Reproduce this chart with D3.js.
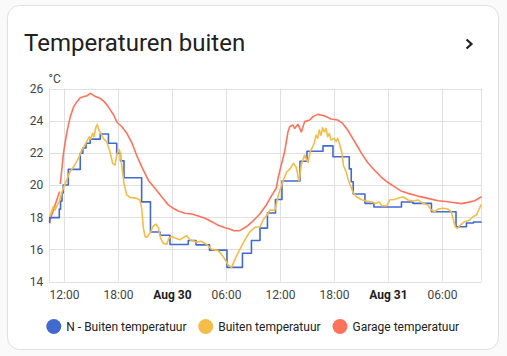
<!DOCTYPE html>
<html><head><meta charset="utf-8">
<script src="https://cdn.jsdelivr.net/npm/d3@7"></script>
<style>
html,body{margin:0;padding:0;background:#fafafa;}
svg{display:block;font-family:Roboto, "Noto Sans", sans-serif;}
</style></head><body>
<svg id="c" width="507" height="356"></svg>
<script>
// Time values: hours since Aug 29 00:00
const seriesNames = ["N - Buiten temperatuur", "Buiten temperatuur", "Garage temperatuur"];
const seriesColors = ["#4269d0", "#f4bd4a", "#ff725c"];
const xDomainHours = [10.37, 58.37];
const xTickHours = [12, 18, 24, 30, 36, 42, 48, 54];
const xTickLabels = ["12:00", "18:00", "Aug 30", "06:00", "12:00", "18:00", "Aug 31", "06:00"];
const xTickBold = [false, false, true, false, false, false, true, false];
const yTicks = [14, 16, 18, 20, 22, 24, 26];
const yUnit = "°C";
const title = "Temperaturen buiten";

// N - Buiten temperatuur (step series)
const noordBuiten = [
  [10.37,17.66],[10.42,17.97],[11.48,18.5],[11.62,19.0],[11.78,19.5],[11.92,20.0],
  [12.48,20.97],[13.81,21.97],[14.1,22.3],[14.45,22.6],[14.92,22.85],[16.03,23.17],
  [16.94,22.6],[17.86,21.97],[18.28,21.5],[18.67,20.45],[20.63,18.95],[21.61,17.08],
  [22.67,16.88],[23.78,16.3],[25.81,16.55],[26.67,16.28],[28.17,15.95],[30.11,14.88],
  [31.83,15.76],[32.83,16.55],[33.78,17.32],[34.61,18.26],[35.5,19.1],[36.22,20.25],
  [38.22,21.48],[39.0,22.1],[40.78,22.43],[41.89,21.76],[43.7,21.0],[43.92,20.2],
  [44.14,19.44],[45.44,18.86],[46.44,18.63],[49.5,18.94],[50.77,18.86],[52.83,18.34],
  [55.56,17.4],[56.72,17.64],[57.5,17.7],[58.37,17.72]
];

// Buiten temperatuur
const buiten = [
  [10.37,18.03],[10.56,18.24],[10.81,18.65],[11.0,18.44],[11.19,18.69],[11.48,18.96],
  [11.74,19.48],[12.0,19.9],[12.3,20.3],[12.67,20.83],[13.03,21.1],[13.41,21.45],
  [13.78,21.86],[13.97,22.18],[14.22,22.38],[14.52,22.69],[14.81,23.0],[14.97,22.84],
  [15.19,23.21],[15.33,23.0],[15.56,23.62],[15.7,23.77],[15.89,23.42],[16.11,23.2],
  [16.37,22.9],[16.74,22.69],[17.11,22.07],[17.41,21.35],[17.67,21.24],[17.86,21.86],
  [18.08,22.22],[18.22,22.07],[18.44,21.14],[18.67,20.1],[18.97,19.38],[19.33,19.23],
  [20.08,19.17],[20.44,19.07],[20.63,18.55],[20.81,17.4],[21.0,16.8],[21.19,16.75],
  [21.56,17.0],[21.92,17.45],[22.22,17.57],[22.48,17.35],[22.74,16.68],[23.03,16.37],
  [23.41,16.31],[23.67,16.7],[23.97,16.8],[24.33,16.7],[24.89,16.6],[25.33,16.75],
  [25.63,16.85],[26.0,16.6],[26.74,16.45],[27.22,16.5],[27.86,16.3],[28.41,16.0],
  [29.14,15.92],[29.7,15.54],[30.26,15.02],[30.63,14.88],[31.17,15.6],[31.92,16.4],
  [32.3,16.78],[32.67,17.1],[33.22,17.37],[33.78,17.4],[34.11,17.82],[34.52,18.1],
  [34.89,18.44],[35.44,18.44],[35.81,19.35],[36.0,19.69],[36.37,20.31],[36.74,20.8],
  [37.11,21.0],[37.48,21.35],[37.81,21.1],[38.11,20.25],[38.37,21.24],[38.74,21.86],
  [39.11,21.4],[39.37,22.07],[39.63,22.38],[39.81,22.59],[40.0,23.1],[40.19,22.9],
  [40.37,23.42],[40.56,23.1],[40.74,23.56],[40.92,23.31],[41.11,23.52],[41.3,23.0],
  [41.48,23.21],[41.67,22.8],[42.03,22.9],[42.22,22.69],[42.41,22.9],[42.59,22.59],
  [42.86,22.07],[43.06,21.2],[43.37,20.8],[43.59,20.31],[43.81,20.0],[44.08,19.6],
  [44.44,19.3],[45.0,19.1],[45.56,19.0],[46.11,18.96],[46.67,18.85],[47.03,18.95],
  [47.3,18.72],[47.85,18.7],[48.22,19.08],[48.7,19.1],[49.11,19.17],[49.67,19.27],
  [50.22,19.07],[50.78,19.0],[51.33,19.07],[51.89,18.86],[52.44,18.76],[52.81,18.44],
  [53.19,18.34],[53.56,18.5],[54.11,18.55],[54.67,18.5],[55.03,18.34],[55.22,17.93],
  [55.48,17.4],[55.7,17.3],[55.97,17.47],[56.52,17.72],[57.08,17.82],[57.44,18.03],
  [57.81,18.13],[58.08,18.44],[58.37,18.8]
];

// Garage temperatuur (null = gap)
const garage = [
  [10.37,17.7],[11.52,19.6],[11.55,null],[11.59,20.06],[11.97,22.07],[12.33,23.3],
  [12.7,24.25],[13.08,24.87],[13.44,25.18],[13.81,25.43],[14.22,25.5],[14.56,25.55],
  [14.92,25.7],[15.22,25.6],[15.48,25.5],[16.03,25.39],[16.44,25.2],[16.78,24.97],
  [17.11,24.7],[17.52,24.35],[17.89,23.9],[18.44,23.62],[19.0,23.2],[19.56,22.6],
  [20.11,21.8],[20.63,21.14],[21.37,20.3],[22.11,19.8],[22.86,19.27],[23.59,18.76],
  [24.14,18.55],[24.7,18.38],[25.44,18.24],[26.19,18.2],[26.92,18.07],[27.67,17.93],
  [28.41,17.72],[29.14,17.5],[29.89,17.34],[30.41,17.26],[30.89,17.16],[31.52,17.16],
  [32.26,17.4],[33.0,17.76],[33.74,18.18],[34.48,18.76],[35.22,19.48],[35.59,19.8],
  [35.78,20.4],[36.14,21.24],[36.52,22.07],[36.89,23.3],[37.08,23.62],[37.44,23.73],
  [37.63,23.52],[38.0,23.77],[38.37,23.3],[38.74,23.94],[39.3,24.04],[39.67,24.25],
  [40.19,24.39],[40.92,24.31],[41.67,24.1],[42.41,24.04],[42.97,23.83],[43.52,23.42],
  [44.08,22.9],[44.63,22.38],[45.19,21.86],[45.74,21.4],[46.48,20.93],[47.22,20.51],
  [47.97,20.17],[48.7,19.9],[49.44,19.63],[50.22,19.48],[51.33,19.31],[52.44,19.17],
  [53.56,19.02],[54.67,18.96],[55.41,18.9],[56.14,18.84],[56.89,18.92],[57.63,19.02],
  [58.37,19.27]
];

const base = new Date(2024, 7, 29, 0, 0, 0);
const toDate = h => new Date(base.getTime() + h * 3600e3);

const svg = d3.select("#c");
const W = 507, H = 356;

// Card
svg.append("rect").attr("x", 7.5).attr("y", 5.5).attr("width", 491).attr("height", 344)
  .attr("rx", 12).attr("fill", "#ffffff").attr("stroke", "#e0e0e0");

// Title
svg.append("text").attr("x", 24).attr("y", 50.5).attr("font-size", 24)
  .attr("fill", "#212121").text(title);
svg.append("path").attr("d", "M466.5,39.5L471.5,44L466.5,48.5")
  .attr("fill", "none").attr("stroke", "#212121").attr("stroke-width", 2.2);

const plot = {left: 49.3, right: 481.3, top: 88.5, bottom: 281.5};
const x = d3.scaleTime().domain(xDomainHours.map(toDate)).range([plot.left, plot.right]);
const y = d3.scaleLinear().domain([14, 26]).range([plot.bottom, plot.top]);

// Gridlines
const grid = svg.append("g");
grid.selectAll(".hg").data(yTicks).join("line")
  .attr("x1", plot.left).attr("x2", plot.right)
  .attr("y1", d => Math.round(y(d)) + 0.5).attr("y2", d => Math.round(y(d)) + 0.5)
  .attr("stroke", "#e0e0e0");
const vg = xTickHours.map(toDate).concat([toDate(xDomainHours[0]), toDate(xDomainHours[1])]);
grid.selectAll(".vg").data(vg).join("line")
  .attr("x1", d => Math.round(x(d)) + 0.5).attr("x2", d => Math.round(x(d)) + 0.5)
  .attr("y1", plot.top).attr("y2", plot.bottom)
  .attr("stroke", "#e0e0e0");

// Y axis
const yAxis = svg.append("g").attr("transform", `translate(${plot.left},0)`)
  .call(d3.axisLeft(y).tickValues(yTicks).tickSize(0).tickPadding(6).tickFormat(d3.format("d")));
yAxis.select(".domain").remove();
yAxis.selectAll("text").attr("font-size", 12).attr("fill", "#444").attr("font-family", "Roboto");

svg.append("text").attr("x", 48.5).attr("y", 83).attr("font-size", 12)
  .attr("fill", "#444").text(yUnit);

// X axis
const xAxis = svg.append("g").attr("transform", `translate(0,${plot.bottom})`)
  .call(d3.axisBottom(x).tickValues(xTickHours.map(toDate)).tickSize(0).tickPadding(9)
    .tickFormat((d, i) => xTickLabels[i]));
xAxis.select(".domain").remove();
xAxis.selectAll("text").attr("font-size", 12).attr("font-family", "Roboto")
  .attr("fill", (d, i) => xTickBold[i] ? "#212121" : "#444")
  .attr("font-weight", (d, i) => xTickBold[i] ? "bold" : "normal");

// Lines
const mkLine = curve => d3.line()
  .defined(d => d[1] != null)
  .x(d => x(toDate(d[0]))).y(d => y(d[1])).curve(curve);

const seriesData = [noordBuiten, buiten, garage];
const curves = [d3.curveStepAfter, d3.curveLinear, d3.curveLinear];
const order = [2, 0, 1];
order.forEach(i => {
  svg.append("path").datum(seriesData[i])
    .attr("fill", "none").attr("stroke", seriesColors[i]).attr("stroke-width", 1.6)
    .attr("stroke-linejoin", "round")
    .attr("d", mkLine(curves[i]));
});

// Legend
const legendX = [53.8, 205.7, 340];
const lg = svg.append("g");
seriesNames.forEach((n, i) => {
  lg.append("circle").attr("cx", legendX[i]).attr("cy", 326.5).attr("r", 7.5).attr("fill", seriesColors[i]);
  lg.append("text").attr("x", legendX[i] + 12.5).attr("y", 330.8).attr("font-size", 12)
    .attr("fill", "#212121").text(n);
});
</script></body></html>
